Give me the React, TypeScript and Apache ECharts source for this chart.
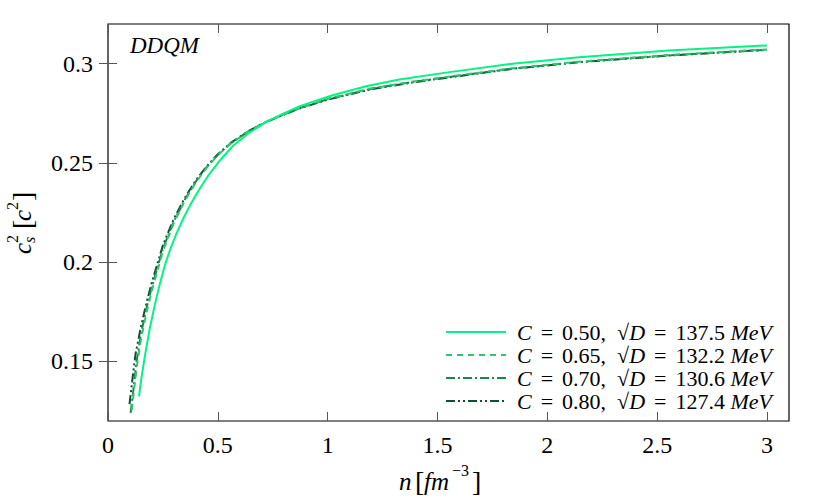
import React, { useEffect, useRef } from 'react';
import * as echarts from 'echarts';

// ---------- data ----------
const xTicks = [0, 0.5, 1, 1.5, 2, 2.5, 3];
const yTicks = [0.15, 0.2, 0.25, 0.3];
const cValues = ['0.50', '0.65', '0.70', '0.80'];
const sqrtDValues = ['137.5', '132.2', '130.6', '127.4'];

const nC050 = [0.141, 0.152, 0.164, 0.176, 0.19, 0.214, 0.236, 0.259, 0.285, 0.312, 0.345, 0.38, 0.42, 0.464, 0.515, 0.568, 0.64, 0.72, 0.8, 0.871, 0.95, 1.023, 1.175, 1.326, 1.538, 1.841, 2.144, 2.553, 3.0];
const cs2C050 = [0.1324, 0.1415, 0.15, 0.158, 0.1665, 0.179, 0.189, 0.1985, 0.207, 0.2145, 0.2225, 0.23, 0.2375, 0.2448, 0.252, 0.2585, 0.265, 0.2707, 0.275, 0.2785, 0.2815, 0.2841, 0.2886, 0.292, 0.2955, 0.3, 0.3033, 0.3067, 0.3092];

const nC065 = [0.108, 0.118, 0.135, 0.15, 0.175, 0.2, 0.25, 0.3, 0.35, 0.4, 0.45, 0.5, 0.56, 0.64, 0.72, 0.8, 0.87, 1.0, 1.2, 1.4, 1.6, 1.84, 2.14, 2.55, 3.0];
const cs2C065 = [0.1255, 0.135, 0.1505, 0.161, 0.1745, 0.1858, 0.2055, 0.2198, 0.231, 0.2402, 0.2477, 0.2539, 0.2598, 0.2659, 0.2707, 0.2745, 0.2777, 0.2823, 0.2876, 0.2912, 0.2942, 0.2977, 0.301, 0.3044, 0.3072];

const nC070 = [0.103, 0.114, 0.13, 0.15, 0.175, 0.2, 0.25, 0.3, 0.35, 0.4, 0.45, 0.5, 0.56, 0.64, 0.72, 0.8, 0.87, 1.0, 1.2, 1.4, 1.6, 1.84, 2.14, 2.55, 3.0];
const cs2C070 = [0.1241, 0.1342, 0.15, 0.1639, 0.1768, 0.1877, 0.2068, 0.2207, 0.2316, 0.2407, 0.248, 0.2541, 0.26, 0.266, 0.2707, 0.2744, 0.2776, 0.2821, 0.2874, 0.291, 0.294, 0.2975, 0.3008, 0.3042, 0.307];

const nC080 = [0.098, 0.11, 0.125, 0.15, 0.175, 0.2, 0.25, 0.3, 0.35, 0.4, 0.45, 0.5, 0.56, 0.64, 0.72, 0.8, 0.87, 1.0, 1.2, 1.4, 1.6, 1.84, 2.14, 2.55, 3.0];
const cs2C080 = [0.1285, 0.14, 0.1535, 0.1675, 0.1795, 0.19, 0.2085, 0.222, 0.2325, 0.2413, 0.2484, 0.2544, 0.2602, 0.2661, 0.2707, 0.2743, 0.2774, 0.2819, 0.2872, 0.2908, 0.2938, 0.2974, 0.3007, 0.3041, 0.307];

const seriesX = [nC050, nC065, nC070, nC080];
const seriesY = [cs2C050, cs2C065, cs2C070, cs2C080];

// ---------- styles ----------
const FONT = '"Liberation Serif", "DejaVu Serif", serif';
const colors = ['#00f582', '#30c46e', '#168a48', '#0c5230'];
const dashes: any[] = ['solid', [6, 5], [9, 3, 2, 3], [9, 3, 2, 3, 2, 3]];

const names = cValues.map((c, i) => `C = ${c}, √D = ${sqrtDValues[i]} MeV`);

function buildOption(): any {
  const series = seriesX.map((xs, i) => ({
    name: names[i],
    type: 'line',
    xAxisIndex: 0,
    yAxisIndex: 0,
    symbol: 'none',
    smooth: false,
    data: xs.map((x, j) => [x, seriesY[i][j]]),
    lineStyle: { color: colors[i], width: 2, type: dashes[i] },
    itemStyle: { color: colors[i] },
    z: 10 - i,
  }));

  const baseX = {
    type: 'value',
    min: 0,
    max: 3.1,
    splitLine: { show: false },
    axisLine: { show: false },
  };
  const baseY = {
    type: 'value',
    min: 0.12,
    max: 0.32,
    splitLine: { show: false },
    axisLine: { show: false },
  };
  const tickStyle = { lineStyle: { color: '#555', width: 1 } };

  const txt = (text: string, x: number, y: number, size: number, italic: boolean) => ({
    type: 'text',
    x,
    y,
    style: {
      text,
      fontFamily: FONT,
      fontSize: size,
      fontStyle: italic ? 'italic' : 'normal',
      fill: '#000',
      align: 'left',
      verticalAlign: 'middle',
    },
  });

  return {
    animation: false,
    backgroundColor: '#ffffff',
    grid: {
      left: 108,
      right: 41,
      top: 24,
      bottom: 77,
      show: true,
      borderColor: '#000',
      borderWidth: 1.2,
      backgroundColor: 'transparent',
    },
    xAxis: [
      {
        ...baseX,
        position: 'bottom',
        axisTick: { show: true, inside: true, length: 9, customValues: xTicks, ...tickStyle },
        axisLabel: {
          show: true,
          customValues: xTicks,
          margin: 12,
          fontFamily: FONT,
          fontSize: 24,
          color: '#000',
        },
      },
      {
        ...baseX,
        position: 'top',
        axisTick: { show: true, inside: true, length: 9, customValues: xTicks, ...tickStyle },
        axisLabel: { show: false },
      },
    ],
    yAxis: [
      {
        ...baseY,
        position: 'left',
        axisTick: { show: true, inside: true, length: 9, customValues: yTicks, ...tickStyle },
        axisLabel: {
          show: true,
          customValues: yTicks,
          margin: 15,
          fontFamily: FONT,
          fontSize: 24,
          color: '#000',
        },
      },
      {
        ...baseY,
        position: 'right',
        axisTick: { show: true, inside: true, length: 9, customValues: yTicks, ...tickStyle },
        axisLabel: { show: false },
      },
    ],
    legend: {
      orient: 'vertical',
      left: 440,
      top: 316,
      itemWidth: 60,
      itemHeight: 14,
      itemGap: 1,
      padding: 5,
      data: names,
      itemStyle: { opacity: 0, borderWidth: 0 },
      formatter: (name: string) => {
        const i = names.indexOf(name);
        return `{i|C}{eq|=}${cValues[i]},  √{i|D}{eq|=}${sqrtDValues[i]} {i|MeV}`;
      },
      textStyle: {
        fontFamily: FONT,
        fontSize: 22,
        lineHeight: 22,
        color: '#000',
        padding: [0, 0, 0, 6],
        rich: {
          i: { fontFamily: FONT, fontSize: 22, fontStyle: 'italic', lineHeight: 22, color: '#000' },
          eq: { fontFamily: FONT, fontSize: 22, lineHeight: 22, color: '#000', padding: [0, 9, 0, 9] },
        },
      },
    },
    graphic: [
      txt('DDQM', 130, 45, 23, true),
      // x axis name: n [fm^-3]
      txt('n', 399, 481, 25, true),
      txt('[', 415, 481, 28, false),
      txt('fm', 424, 481, 25, true),
      txt('−3', 452, 470, 16, false),
      txt(']', 472, 481, 28, false),
      // y axis name: c_s^2 [c^2]
      {
        type: 'group',
        x: 22,
        y: 223,
        rotation: Math.PI / 2,
        children: [
          txt('c', -31, 0, 25, true),
          txt('2', -20, -10, 16, false),
          txt('s', -20, 7, 16, true),
          txt('[', -6, 0, 28, false),
          txt('c', 2, 0, 25, true),
          txt('2', 13, -10, 16, false),
          txt(']', 22, 0, 28, false),
        ],
      },
    ],
    series,
  };
}

export default function App() {
  const ref = useRef<HTMLDivElement>(null);
  useEffect(() => {
    if (!ref.current) return;
    const chart = echarts.init(ref.current, null, { renderer: 'svg' });
    chart.setOption(buildOption());
    return () => chart.dispose();
  }, []);
  return (
    <div
      ref={ref}
      style={{ position: 'absolute', left: 0, top: 0, width: 830, height: 498, background: '#fff' }}
    />
  );
}
